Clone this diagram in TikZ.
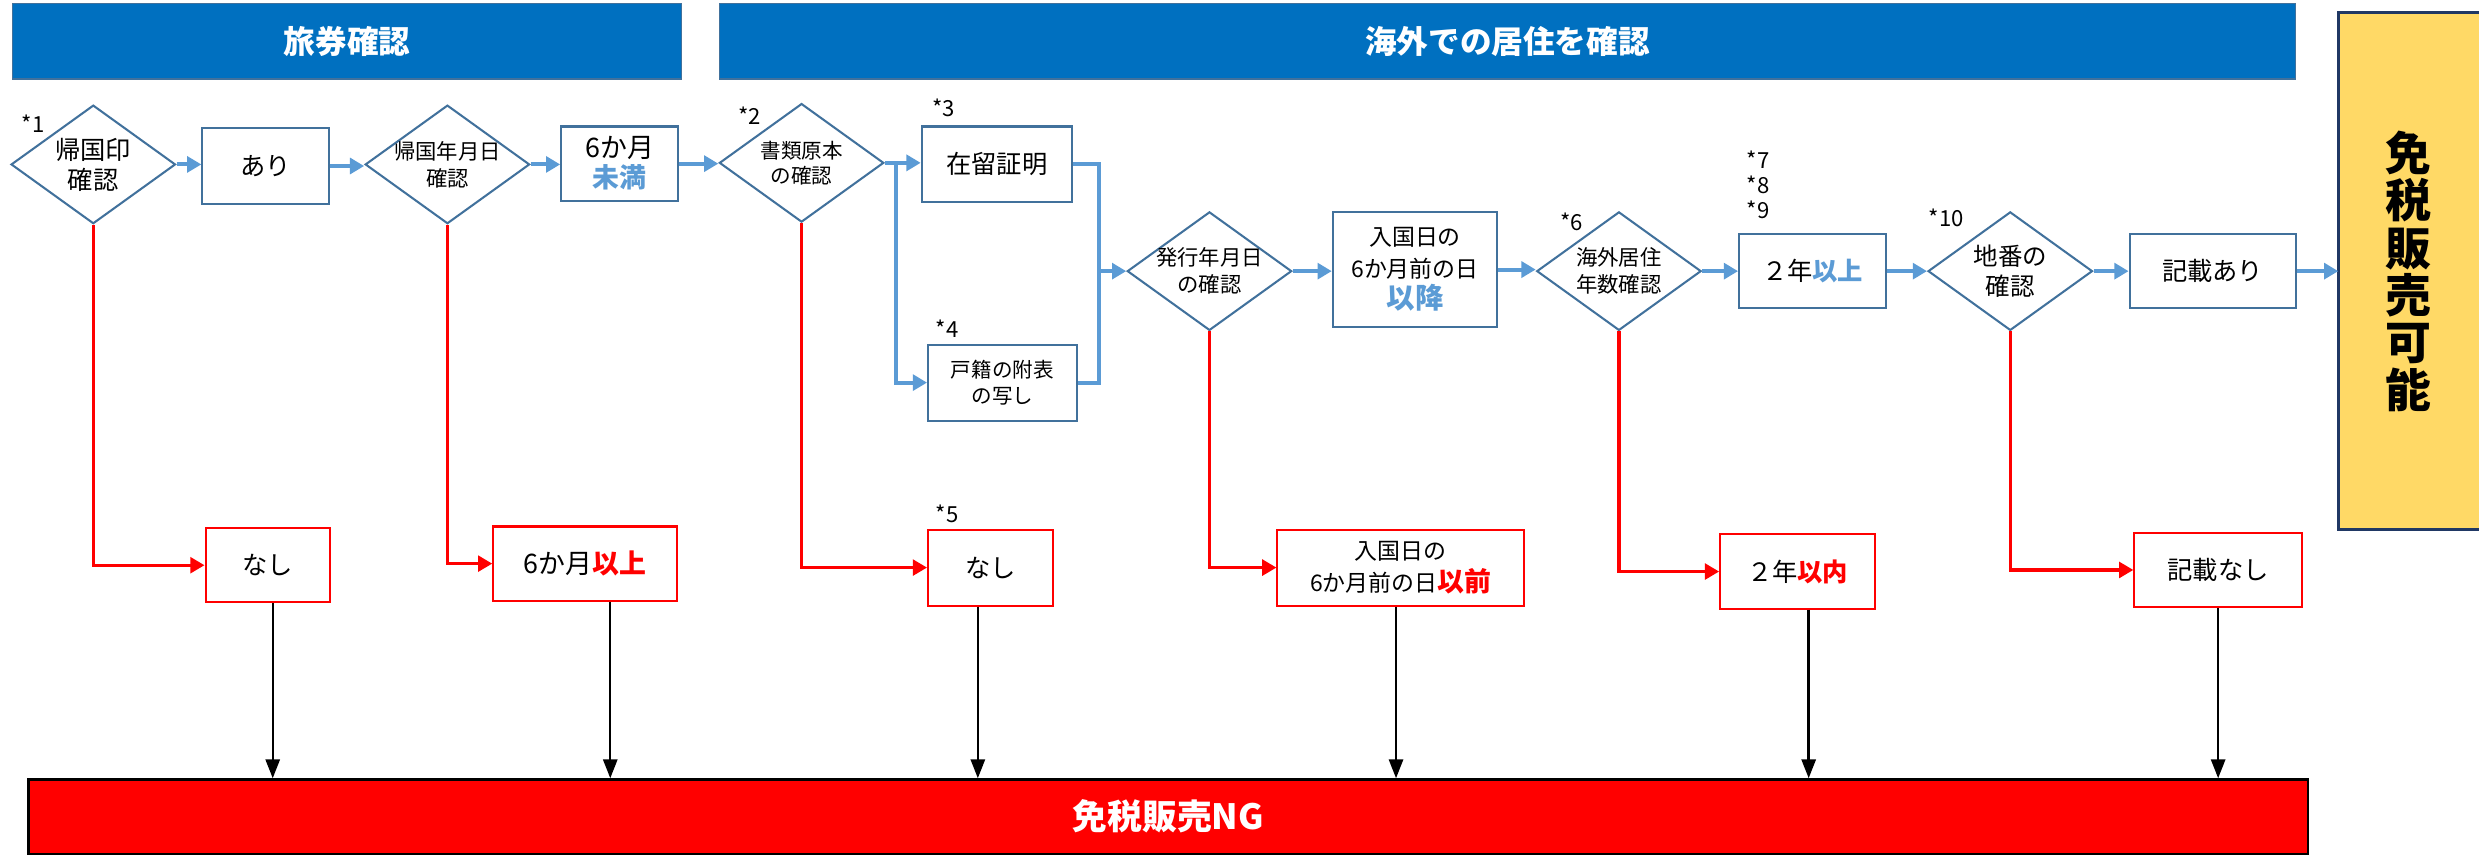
\documentclass[tikz,border=0pt]{standalone}
\usepackage{fontspec}
\setmainfont{Noto Sans CJK JP}
\usetikzlibrary{shapes.geometric,arrows.meta}
\definecolor{hdrblue}{HTML}{0070C0}
\definecolor{boxblue}{HTML}{41719C}
\definecolor{flowblue}{HTML}{5B9BD5}
\definecolor{okyellow}{HTML}{FFD966}
\definecolor{oknavy}{HTML}{203864}
\newcommand\fsz[2]{\fontsize{#1}{#2}\selectfont}
\tikzset{
  hdr/.style={fill=hdrblue, draw=boxblue, line width=.8pt, text=white,
    minimum height=48pt, inner sep=0, font=\fsz{20}{24}\bfseries},
  bbox/.style={draw=boxblue, line width=1.3pt, fill=white, inner sep=0,
    align=center, minimum height=47pt, font=\fsz{16}{19}},
  rbox/.style={draw=red, line width=1.3pt, fill=white, inner sep=0,
    align=center, minimum height=47pt, font=\fsz{16}{19}},
  dia/.style={diamond, draw=boxblue, line width=1.3pt, fill=white, inner sep=0,
    minimum width=104pt, minimum height=75pt},
  dtx/.style={align=center, inner sep=0},
  note/.style={inner sep=0, font=\fsz{14}{16}},
  flow/.style={draw=flowblue, line width=2.5pt, -{Triangle[width=10pt,length=9pt]}},
  flowline/.style={draw=flowblue, line width=2.5pt},
  nogo/.style={draw=red, line width=2pt, -{Triangle[width=10pt,length=9pt]}},
  tong/.style={draw=black, line width=1.5pt, -{Triangle[width=9pt,length=12pt]}},
  okbox/.style={fill=okyellow, inner sep=0, outer sep=0, minimum width=89pt,
    minimum height=327pt, align=center, font=\fsz{29}{30}\bfseries},
  okline/.style={draw=oknavy, line width=1.5pt},
  ngbox/.style={fill=red, draw=black, line width=1.5pt, text=white, inner sep=0,
    minimum width=1442pt, minimum height=47pt, font=\fsz{22}{26}\bfseries}
}
\begin{document}
\begin{tikzpicture}[x=1pt,y=-1pt]
\useasboundingbox (0,0) rectangle (1568,541);
% headers
\node[hdr, minimum width=423pt] (H1) at (219.5,26) {旅券確認};
\node[hdr, minimum width=997pt] (H2) at (953.5,26) {海外での居住を確認};
% results
\node[okbox] (YES) at (1523.5,171.5) {免\\税\\販\\売\\可\\能};
\draw[okline] (YES.north east) -- (YES.north west) -- (YES.south west) -- (YES.south east);
\node[ngbox] (NG) at (739,516.5) {免税販売NG\hspace{24pt}};
% checks
\node[dia, label={[dtx,font=\fsz{16}{19}]center:{帰国印\\確認}}] (D1) at (59,104) {};
\node[dia, label={[dtx,font=\fsz{13.5}{17}]center:{帰国年月日\\確認}}] (D2) at (283,104) {};
\node[dia, label={[dtx,font=\fsz{13}{16}]center:{書類原本\\の確認}}] (D3) at (507,103) {};
\node[dia, label={[dtx,font=\fsz{13.5}{17}]center:{発行年月日\\の確認}}] (D4) at (765,171.5) {};
\node[dia, label={[dtx,font=\fsz{13.5}{17}]center:{海外居住\\年数確認}}] (D5) at (1024,171.5) {};
\node[dia, label={[dtx,font=\fsz{15.5}{19}]center:{地番の\\確認}}] (D6) at (1271.5,171.5) {};
% yes boxes
\node[bbox, minimum width=80pt, minimum height=48pt] (B1) at (168,105) {あり};
\node[bbox, minimum width=74pt, font=\fsz{17}{19}] (B2) at (392,103.5) {6か月\\\textcolor{flowblue}{\textbf{未満}}};
\node[bbox, minimum width=95pt, minimum height=48pt] (B3) at (630.5,104) {在留証明};
\node[bbox, minimum width=94pt, minimum height=48pt, font=\fsz{13}{17}] (B4) at (634,242) {戸籍の附表\\の写し};
\node[bbox, minimum width=104pt, minimum height=73pt, font=\fsz{14.5}{20}] (B5) at (895,170.5) {入国日の\\6か月前の日\\{\fsz{18}{20}\bfseries\textcolor{flowblue}{以降}}};
\node[bbox, minimum width=93pt] (B6) at (1146.5,171.5) {２年\textcolor{flowblue}{\textbf{以上}}};
\node[bbox, minimum width=105pt] (B7) at (1399.5,171.5) {記載あり};
% no boxes
\node[rbox, minimum width=79pt] (N1) at (169.5,357.5) {なし};
\node[rbox, minimum width=116pt, font=\fsz{17}{19}] (N2) at (370,356.5) {6か月\textcolor{red}{\textbf{以上}}};
\node[rbox, minimum width=79pt, minimum height=48pt] (N3) at (626.5,359) {なし};
\node[rbox, minimum width=156pt, minimum height=48pt, font=\fsz{14.5}{20}] (N4) at (886,359) {入国日の\\6か月前の日{\fsz{17}{20}\bfseries\textcolor{red}{以前}}};
\node[rbox, minimum width=98pt] (N5) at (1137,361.5) {２年\textcolor{red}{\textbf{以内}}};
\node[rbox, minimum width=106pt] (N6) at (1403,360.5) {記載なし};
% notes
\node[note] (s1) at (21,78) {*1};
\node[note] (s2) at (474,73) {*2};
\node[note] (s3) at (597,68) {*3};
\node[note] (s4) at (599,208) {*4};
\node[note] (s5) at (599,325) {*5};
\node[note] (s6) at (994,140) {*6};
\node[note, align=left] (s7) at (1112,117) {*7\\*8\\*9};
\node[note] (s10) at (1231,138) {*10};
% passing flow
\draw[flow] (D1.east) -- (D1.east -| B1.west);
\draw[flow] (B1.east) -- (B1.east -| D2.west);
\draw[flow] (D2.east) -- (D2.east -| B2.west);
\draw[flow] (B2.east) -- (B2.east -| D3.west);
\draw[flow] (D3.east) -- (D3.east -| B3.west);
\coordinate (fork) at (567,103);
\draw[flow] (fork) |- (B4.west);
\coordinate (join) at (695,171.5);
\draw[flowline] (B3.east) -| (join) |- (B4.east);
\draw[flow] (join) -- (D4.west);
\draw[flow] (D4.east) -- (D4.east -| B5.west);
\draw[flow] (B5.east) -- (B5.east -| D5.west);
\draw[flow] (D5.east) -- (D5.east -| B6.west);
\draw[flow] (B6.east) -- (B6.east -| D6.west);
\draw[flow] (D6.east) -- (D6.east -| B7.west);
\draw[flow] (B7.east) -- (B7.east -| YES.west);
% failing flow
\draw[nogo] (D1.south) |- (N1.west);
\draw[nogo] (D2.south) |- (N2.west);
\draw[nogo] (D3.south) |- (N3.west);
\draw[nogo] (D4.south) |- (N4.west);
\draw[nogo] (D5.south) |- (N5.west);
\draw[nogo] (D6.south) |- (N6.west);
\draw[tong] ([xshift=3pt]N1.south) -- ([xshift=3pt]N1.south |- NG.north);
\draw[tong] ([xshift=16pt]N2.south) -- ([xshift=16pt]N2.south |- NG.north);
\draw[tong] ([xshift=-8pt]N3.south) -- ([xshift=-8pt]N3.south |- NG.north);
\draw[tong] ([xshift=-3pt]N4.south) -- ([xshift=-3pt]N4.south |- NG.north);
\draw[tong] ([xshift=7pt]N5.south) -- ([xshift=7pt]N5.south |- NG.north);
\draw[tong] (N6.south) -- (N6.south |- NG.north);
\end{tikzpicture}
\end{document}
